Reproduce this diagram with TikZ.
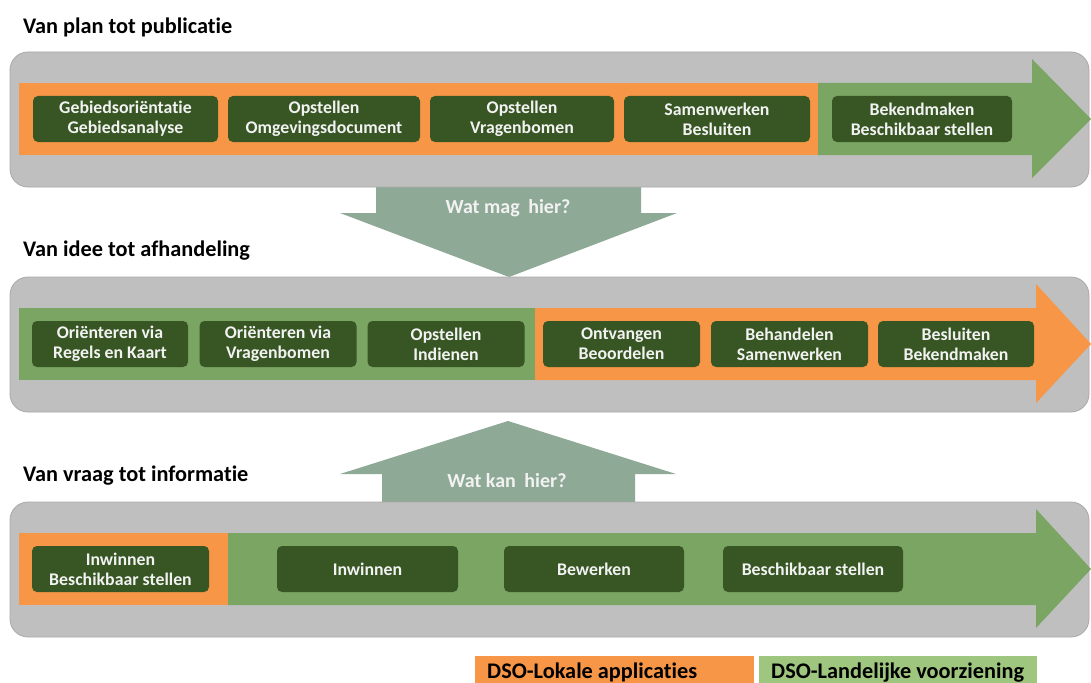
\documentclass[tikz,border=0pt]{standalone}
\usepackage{fontspec}
\setmainfont{Carlito}[Ligatures=NoCommon]
\definecolor{grayback}{HTML}{BFBFBF}
\definecolor{grayedge}{HTML}{A9A9A9}
\definecolor{orangeband}{HTML}{F79646}
\definecolor{greenband}{HTML}{7AA563}
\definecolor{darkbox}{HTML}{375623}
\definecolor{arrowgreen}{HTML}{8EA996}
\definecolor{legendgreen}{HTML}{9FC67F}
\definecolor{boxtext}{HTML}{F2F2F2}
\tikzset{
  graybox/.style={fill=grayback, draw=grayedge, line width=0.8pt, rounded corners=18pt},
  stepbox/.style={rectangle, rounded corners=5pt, fill=darkbox, text=boxtext, inner sep=0pt,
    minimum height=46pt, align=center, font=\bfseries\fontsize{17.8}{20}\selectfont},
  rowtitle/.style={anchor=west, inner sep=0pt, font=\bfseries\fontsize{22.3}{26}\selectfont},
  arrowlabel/.style={inner sep=0pt, text=boxtext, font=\bfseries\fontsize{20}{22}\selectfont},
  legendfill/.style={rectangle, anchor=north west, inner sep=0pt, minimum height=27pt},
  legendtext/.style={anchor=base west, inner sep=0pt, font=\bfseries\fontsize{22.3}{24}\selectfont},
}
\begin{document}
\begin{tikzpicture}[x=1pt,y=-1pt]
\useasboundingbox (0,0) rectangle (1091,682);

% connecting arrows between rows (under the gray boxes)
\fill[arrowgreen] (376,180) -- (641,180) -- (641,213) -- (677,213) -- (509,277) -- (340,213) -- (376,213) -- cycle;
\fill[arrowgreen] (382,510) -- (635,510) -- (635,474) -- (676,474) -- (508,421) -- (340,474) -- (382,474) -- cycle;

% row 1
\node[rowtitle] (t1) at (23,27) {Van plan tot publicatie};
\draw[graybox] (10,52) rectangle (1089,187);
\fill[orangeband] (19,83) rectangle (818,155);
\fill[greenband] (818,83) -- (1032,83) -- (1032,59) -- (1091,119) -- (1032,178) -- (1032,155) -- (818,155) -- cycle;
\node[stepbox, minimum width=185pt] (a1) at (125.5,119) {Gebiedsoriëntatie\\Gebiedsanalyse};
\node[stepbox, minimum width=192pt] (a2) at (324,119) {Opstellen\\Omgevingsdocument};
\node[stepbox, minimum width=184pt] (a3) at (522,119) {Opstellen\\Vragenbomen};
\node[stepbox, minimum width=186pt] (a4) at (717,119) {Samenwerken\\Besluiten};
\node[stepbox, minimum width=180pt] (a5) at (922,119) {Bekendmaken\\Beschikbaar stellen};
\node[arrowlabel] (q1) at (508,208) {Wat mag\hspace{0.2em} hier?};

% row 2
\node[rowtitle] (t2) at (23,251) {Van idee tot afhandeling};
\draw[graybox] (10,277) rectangle (1089,412);
\fill[greenband] (19,308) rectangle (535,380);
\fill[orangeband] (535,308) -- (1036,308) -- (1036,284) -- (1091,344) -- (1036,403) -- (1036,380) -- (535,380) -- cycle;
\node[stepbox, minimum width=156pt] (b1) at (110,344) {Oriënteren via\\Regels en Kaart};
\node[stepbox, minimum width=157pt] (b2) at (278,344) {Oriënteren via\\Vragenbomen};
\node[stepbox, minimum width=157pt] (b3) at (446,344) {Opstellen\\Indienen};
\node[stepbox, minimum width=157pt] (b4) at (621.5,344) {Ontvangen\\Beoordelen};
\node[stepbox, minimum width=157pt] (b5) at (789.5,344) {Behandelen\\Samenwerken};
\node[stepbox, minimum width=156pt] (b6) at (956,344) {Besluiten\\Bekendmaken};

% row 3
\node[rowtitle] (t3) at (23,476) {Van vraag tot informatie};
\draw[graybox] (10,502) rectangle (1089,637);
\fill[orangeband] (19,533) rectangle (228,605);
\fill[greenband] (228,533) -- (1036,533) -- (1036,509) -- (1091,569) -- (1036,628) -- (1036,605) -- (228,605) -- cycle;
\node[stepbox, minimum width=177pt] (c1) at (120.5,569) {Inwinnen\\Beschikbaar stellen};
\node[stepbox, minimum width=181pt] (c2) at (367.5,569) {Inwinnen};
\node[stepbox, minimum width=180pt] (c3) at (594,569) {Bewerken};
\node[stepbox, minimum width=180pt] (c4) at (813,569) {Beschikbaar stellen};
\node[arrowlabel] (q2) at (507,481) {Wat kan\hspace{0.2em} hier?};

% legend
\node[legendfill, fill=orangeband, minimum width=279pt] (l1) at (475,656) {};
\node[legendfill, fill=legendgreen, minimum width=278pt] (l2) at (759,656) {};
\node[legendtext] (l1t) at (487,678) {DSO-Lokale applicaties};
\node[legendtext] (l2t) at (771,678) {DSO-Landelijke voorziening};
\end{tikzpicture}
\end{document}
